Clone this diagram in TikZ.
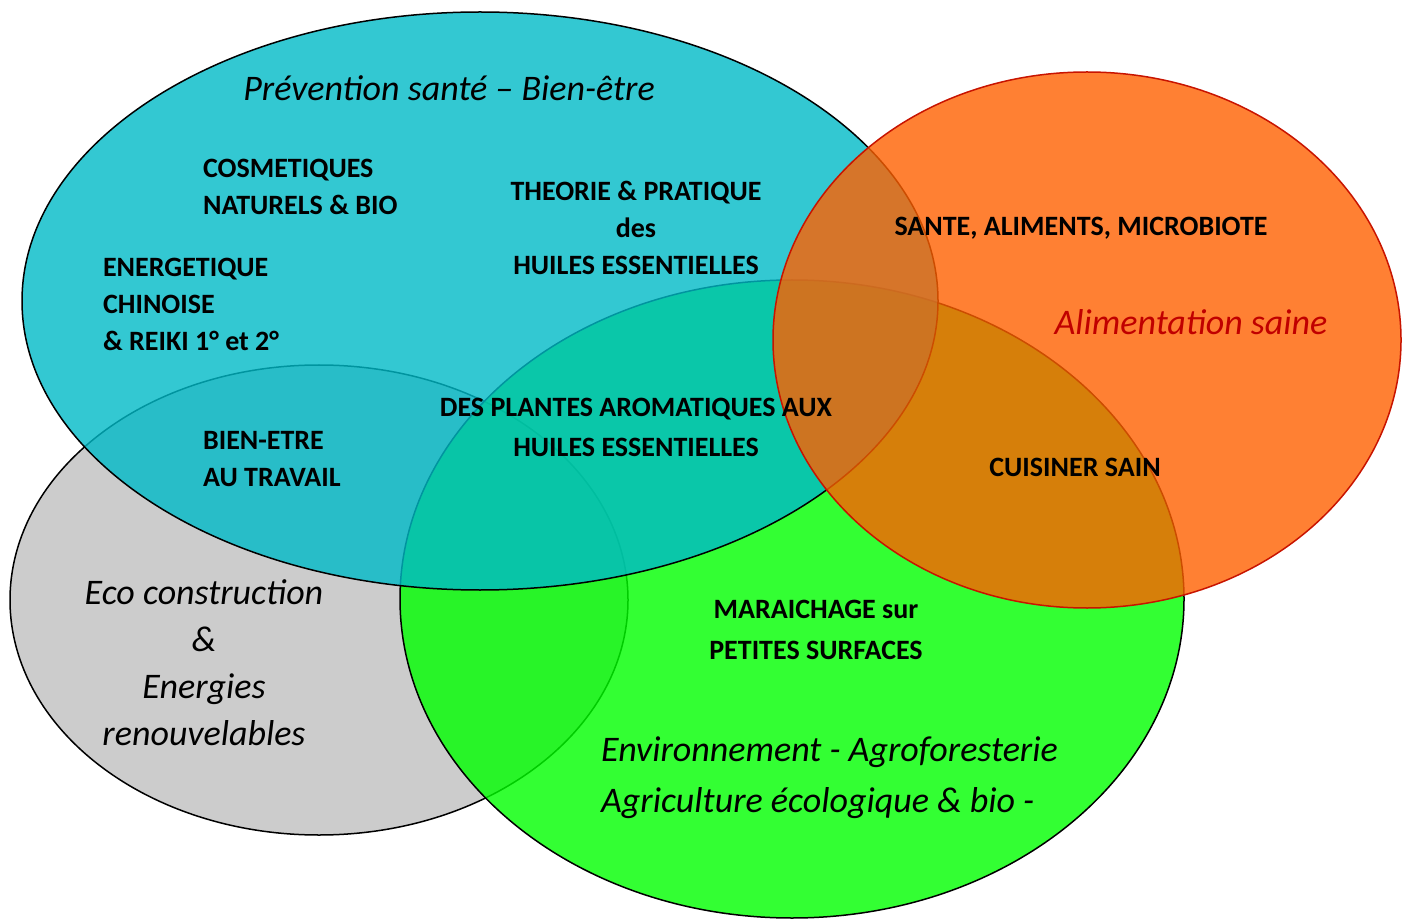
\documentclass[tikz,border=0pt]{standalone}
\usepackage{fontspec}
\setmainfont{Carlito}
\definecolor{grisfond}{RGB}{204,204,204}
\definecolor{vertfond}{RGB}{0,255,0}
\definecolor{bleufond}{RGB}{0,186,199}
\definecolor{orangefond}{RGB}{255,96,0}
\definecolor{rougebord}{RGB}{200,20,0}
\definecolor{rougetexte}{RGB}{192,0,0}
\tikzset{
  lbl/.style={font=\bfseries\fontsize{14}{18.5}\selectfont, align=center},
  ttl/.style={font=\itshape\fontsize{18}{23.5}\selectfont, align=center}
}

\begin{document}
\begin{tikzpicture}[x=0.5pt,y=-0.5pt]
            \useasboundingbox (0,0) rectangle (1402,919);
            \draw[line width=0.75pt, fill=grisfond] (319,600) ellipse [x radius=154.5pt, y radius=117.5pt];
            \draw[line width=0.75pt, fill=vertfond, fill opacity=0.8] (792,599) ellipse [x radius=196pt, y radius=159.5pt];
            \draw[line width=0.75pt, fill=bleufond, fill opacity=0.8] (480,301) ellipse [x radius=229pt, y radius=144.5pt];
            \draw[line width=0.75pt, draw=rougebord, fill=orangefond, fill opacity=0.8] (1087,340) ellipse [x radius=157pt, y radius=134pt];
            \node[ttl] (prevention) at (449,88) {Prévention santé – Bien-être};
            \node[lbl, align=left, anchor=west] (cosmetiques) at (196,187) {COSMETIQUES\\NATURELS \& BIO};
            \node[lbl] (theorie) at (636,228) {THEORIE \& PRATIQUE\\des\\HUILES ESSENTIELLES};
            \node[lbl, align=left, anchor=west] (energetique) at (96,304) {ENERGETIQUE\\CHINOISE\\\& REIKI 1° et 2°};
            \node[lbl, align=left, anchor=west] (travail) at (196,459) {BIEN-ETRE\\AU TRAVAIL};
            \node[lbl] (plantes) at (636,427) {DES PLANTES AROMATIQUES AUX\\[1.5pt]HUILES ESSENTIELLES};
            \node[lbl] (sante) at (1081,228) {SANTE, ALIMENTS, MICROBIOTE};
            \node[ttl, text=rougetexte] (alimentation) at (1191,322) {Alimentation saine};
            \node[lbl] (cuisiner) at (1075,467) {CUISINER SAIN};
            \node[lbl] (maraichage) at (816,630) {MARAICHAGE sur\\[2pt]PETITES SURFACES};
            \node[ttl, font=\itshape\fontsize{18}{25.5}\selectfont, align=left, anchor=west] (environnement) at (594,778) {Environnement - Agroforesterie\\Agriculture écologique \& bio -};
            \node[ttl] (eco) at (204,663) {Eco construction\\\&\\Energies\\renouvelables};
        \end{tikzpicture}
\end{document}
